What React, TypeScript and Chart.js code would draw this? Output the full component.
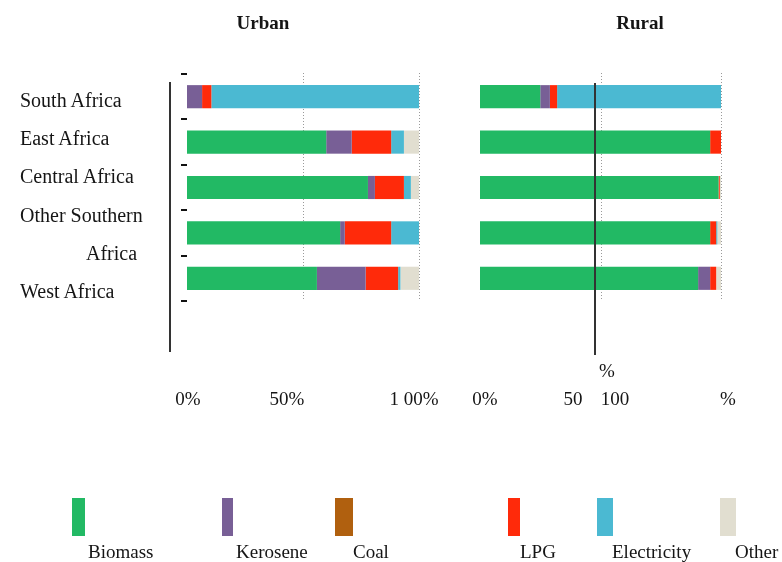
import React, { useEffect, useRef } from "react";
import { Chart, registerables } from "chart.js";

Chart.register(...registerables);

const categories = ["South Africa", "East Africa", "Central Africa", "Other Southern Africa", "West Africa"];
const fuelNames = ["Biomass", "Kerosene", "Coal", "LPG", "Electricity", "Other"];
const fuelColors = ["#22b964", "#785f96", "#b0600f", "#ff2a0a", "#4bb9d2", "#e1ded0"];

const urbanBiomass = [0, 60, 78, 66, 56];
const urbanKerosene = [6.5, 11, 3, 2, 21];
const urbanCoal = [0, 0, 0, 0, 0];
const urbanLPG = [4, 17, 12.5, 20, 14];
const urbanElectricity = [89.5, 5.5, 3, 12, 1];
const urbanOther = [0, 6.5, 3.5, 0, 8];

const ruralBiomass = [25, 95.5, 99, 95.5, 90.5];
const ruralKerosene = [4, 0, 0, 0, 5];
const ruralCoal = [0, 0, 0, 0, 0];
const ruralLPG = [3, 4.5, 0.5, 2.5, 2.5];
const ruralElectricity = [68, 0, 0, 0.5, 0];
const ruralOther = [0, 0, 0.5, 1.5, 2];

const gridValues = [50, 100];

const urbanSeries = [urbanBiomass, urbanKerosene, urbanCoal, urbanLPG, urbanElectricity, urbanOther];
const ruralSeries = [ruralBiomass, ruralKerosene, ruralCoal, ruralLPG, ruralElectricity, ruralOther];

const W = 782;
const H = 562;

const decoPlugin = {
  id: "deco",
  beforeDatasetsDraw(chart: any, _args: any, opts: any) {
    const ctx = chart.ctx;
    const x = chart.scales.x;
    const area = chart.chartArea;
    ctx.save();
    ctx.strokeStyle = "#9a9a9a";
    ctx.lineWidth = 1;
    ctx.setLineDash([1, 2]);
    for (const v of gridValues) {
      const px = Math.round(x.getPixelForValue(v)) + 0.5;
      ctx.beginPath();
      ctx.moveTo(px, area.top - 1);
      ctx.lineTo(px, area.bottom);
      ctx.stroke();
    }
    ctx.restore();
  },
  afterDatasetsDraw(chart: any, _args: any, opts: any) {
    if (!opts || !opts.dashes) return;
    const ctx = chart.ctx;
    const y = chart.scales.y;
    const area = chart.chartArea;
    ctx.save();
    ctx.fillStyle = "#111";
    for (let i = 0; i <= categories.length; i++) {
      const py = y.getPixelForValue(i - 0.5);
      ctx.fillRect(area.left - 6, Math.round(py) - 1, 6, 2);
    }
    ctx.restore();
  },
};

function Panel({ series, pad, dashes }: { series: number[][]; pad: any; dashes: boolean }) {
  const ref = useRef<HTMLCanvasElement>(null);
  useEffect(() => {
    if (!ref.current) return;
    const chart = new Chart(ref.current, {
      type: "bar",
      data: {
        labels: categories,
        datasets: fuelNames.map((name, i) => ({
          label: name,
          data: series[i],
          backgroundColor: fuelColors[i],
          borderWidth: 0,
          barPercentage: 0.51,
          categoryPercentage: 1,
        })),
      },
      options: {
        indexAxis: "y",
        responsive: false,
        animation: false,
        devicePixelRatio: 1,
        layout: { padding: pad },
        scales: {
          x: { stacked: true, min: 0, max: 100, display: false },
          y: { stacked: true, display: false },
        },
        plugins: {
          legend: { display: false },
          tooltip: { enabled: false },
          deco: { dashes },
        } as any,
      },
      plugins: [decoPlugin],
    });
    return () => chart.destroy();
  }, []);
  return (
    <canvas
      ref={ref}
      width={W}
      height={H}
      style={{ position: "absolute", left: 0, top: 0, width: W, height: H }}
    />
  );
}

const font = '"Liberation Serif", "Times New Roman", serif';

function T({ x, y, text, size = 20, bold = false, align = "left" }: any) {
  // y is baseline
  const top = y - size * 0.84;
  const style: any = {
    position: "absolute",
    top,
    fontSize: size,
    lineHeight: `${size}px`,
    fontWeight: bold ? "bold" : "normal",
    whiteSpace: "nowrap",
    color: "#151515",
  };
  style.left = x;
  if (align === "center") style.transform = "translateX(-50%)";
  return <div style={style}>{text}</div>;
}

const categoryLabelTexts = ["South Africa", "East Africa", "Central Africa", "Other Southern", "Africa", "West Africa"];
const urbanTickLabels = ["0%", "50%", "1 00%"];
const ruralTickLabels = ["0%", "50", "100", "%"];

export default function App() {
  const catX = [20, 20, 20, 20, 86, 20];
  const catY = [107, 145, 183, 222, 260, 298];
  const legendSwatchX = [72, 222, 335, 508, 597, 720];
  const legendSwatchW = [13, 11, 18, 12, 16, 16];
  const legendTextX = [88, 236, 353, 520, 612, 735];
  return (
    <div
      style={{
        position: "absolute",
        left: 0,
        top: 0,
        width: W,
        height: H,
        overflow: "hidden",
        background: "#fff",
        fontFamily: font,
      }}
    >
      <Panel series={urbanSeries} pad={{ left: 187, right: W - 419, top: 74, bottom: H - 301 }} dashes={true} />
      <Panel series={ruralSeries} pad={{ left: 480, right: W - 721, top: 74, bottom: H - 301 }} dashes={false} />

      <div style={{ position: "absolute", left: 169, top: 82, width: 1.5, height: 270, background: "#333" }} />
      <div style={{ position: "absolute", left: 594, top: 83, width: 1.5, height: 272, background: "#333" }} />

      <T x={263} y={29} text="Urban" size={19} bold align="center" />
      <T x={640} y={29} text="Rural" size={19} bold align="center" />

      {categoryLabelTexts.map((t, i) => (
        <T key={t + i} x={catX[i]} y={catY[i]} text={t} size={20} />
      ))}

      <T x={188} y={405} text={urbanTickLabels[0]} size={19} align="center" />
      <T x={287} y={405} text={urbanTickLabels[1]} size={19} align="center" />
      <T x={414} y={405} text={urbanTickLabels[2]} size={19} align="center" />
      <T x={485} y={405} text={ruralTickLabels[0]} size={19} align="center" />
      <T x={573} y={405} text={ruralTickLabels[1]} size={19} align="center" />
      <T x={615} y={405} text={ruralTickLabels[2]} size={19} align="center" />
      <T x={607} y={377} text={ruralTickLabels[3]} size={19} align="center" />
      <T x={728} y={405} text={ruralTickLabels[3]} size={19} align="center" />

      {fuelNames.map((name, i) => (
        <React.Fragment key={name}>
          <div
            style={{
              position: "absolute",
              left: legendSwatchX[i],
              top: 498,
              width: legendSwatchW[i],
              height: 38,
              background: fuelColors[i],
            }}
          />
          <T x={legendTextX[i]} y={558} text={name} size={19} />
        </React.Fragment>
      ))}
    </div>
  );
}
